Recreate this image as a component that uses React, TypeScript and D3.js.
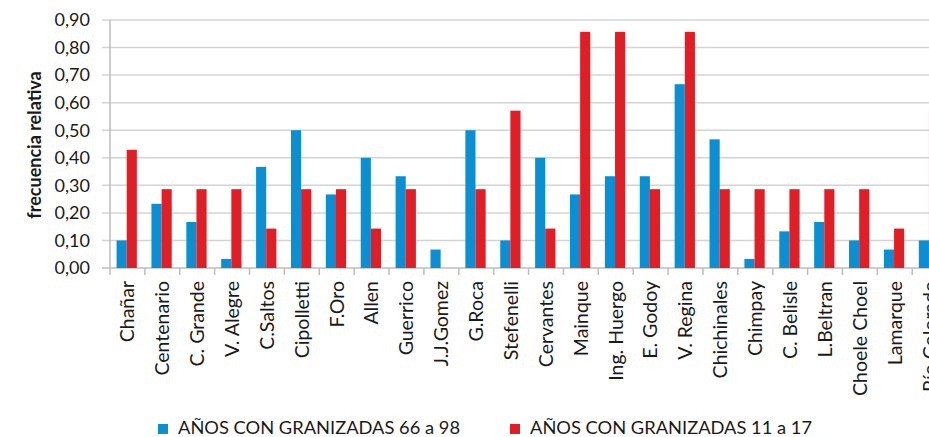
import React from 'react';
import * as d3 from 'd3';

const WIDTH = 929;
const HEIGHT = 437;

const categories = [
    'Chañar', 'Centenario', 'C. Grande', 'V. Alegre', 'C.Saltos', 'Cipolletti', 'F.Oro', 'Allen',
    'Guerrico', 'J.J.Gomez', 'G.Roca', 'Stefenelli', 'Cervantes', 'Mainque', 'Ing. Huergo',
    'E. Godoy', 'V. Regina', 'Chichinales', 'Chimpay', 'C. Belisle', 'L.Beltran', 'Choele Choel',
    'Lamarque', 'Río Colorado',
];

const blueValues = [
    0.10, 0.233, 0.167, 0.033, 0.367, 0.50, 0.267, 0.40, 0.333, 0.067, 0.50, 0.10,
    0.40, 0.267, 0.333, 0.333, 0.667, 0.467, 0.033, 0.133, 0.167, 0.10, 0.067, 0.10,
];

const redValues = [
    0.429, 0.286, 0.286, 0.286, 0.143, 0.286, 0.286, 0.143, 0.286, 0, 0.286, 0.571,
    0.143, 0.857, 0.857, 0.286, 0.857, 0.286, 0.286, 0.286, 0.286, 0.286, 0.143, 0.571,
];

const seriesNames = ['AÑOS CON GRANIZADAS 66 a 98', 'AÑOS CON GRANIZADAS 11 a 17'];
const seriesColors = ['#0a8fd2', '#e11d25'];
const yTicks = [0, 0.1, 0.2, 0.3, 0.4, 0.5, 0.6, 0.7, 0.8, 0.9];

const FONT = 'Lato, "Open Sans", sans-serif';

const margin = {left: 110, top: 20, bottom: 268};
const bandWidth = 34.88;

export default function App() {
    const x = d3.scaleBand<string>()
        .domain(categories)
        .range([margin.left, margin.left + bandWidth * categories.length]);

    // blue / red side by side inside each category
    const x1 = d3.scaleBand<number>()
        .domain([0, 1])
        .range([0, x.bandwidth()])
        .paddingOuter(0.72)
        .align(0.45);

    const y = d3.scaleLinear()
        .domain([0, 0.9])
        .range([margin.bottom, margin.top]);

    const fmt = (v: number) => v.toFixed(2).replace('.', ',');
    const series = [blueValues, redValues];

    return (
        <svg width={WIDTH} height={HEIGHT}
             style={{position: 'absolute', left: 0, top: 0, display: 'block', background: '#fff'}}
             fontFamily={FONT}>
            {/* gridlines + y labels */}
            {yTicks.map(t => (
                <g key={t}>
                    <line x1={102} x2={WIDTH} y1={y(t)} y2={y(t)}
                          stroke={t === 0 ? '#bdbdbd' : '#d4d4d4'} strokeWidth={1.5}/>
                    <text x={90} y={y(t)} dy="0.35em" textAnchor="end" fontSize={18} fill="#1a1a1a">
                        {fmt(t)}
                    </text>
                </g>
            ))}
            <line x1={margin.left} x2={margin.left} y1={y(0.9)} y2={y(0)} stroke="#bdbdbd" strokeWidth={1.5}/>

            {/* category ticks */}
            {categories.map(c => (
                <line key={c} x1={x(c) ?? 0} x2={x(c) ?? 0}
                      y1={y(0)} y2={y(0) + 7} stroke="#bdbdbd" strokeWidth={1.5}/>
            ))}

            {/* bars */}
            {series.map((vals, s) => (
                <g key={s} fill={seriesColors[s]}>
                    {categories.map((c, i) => (
                        vals[i] > 0 ? (
                            <rect key={c}
                                  x={(x(c) ?? 0) + (x1(s) ?? 0)}
                                  y={y(vals[i])}
                                  width={x1.bandwidth()}
                                  height={y(0) - y(vals[i])}/>
                        ) : null
                    ))}
                </g>
            ))}

            {/* x labels */}
            {categories.map(c => {
                const cx = (x(c) ?? 0) + x.bandwidth() / 2;
                return (
                    <text key={c} transform={`translate(${cx},281) rotate(-90)`}
                          textAnchor="end" dy="0.35em" fontSize={19.5} fill="#1a1a1a">
                        {c}
                    </text>
                );
            })}

            {/* y title */}
            <text transform="translate(35,145) rotate(-90)" textAnchor="middle" dy="0.35em"
                  fontSize={18} fontWeight="bold" fill="#1a1a1a">
                frecuencia relativa
            </text>

            {/* legend */}
            {seriesNames.map((name, s) => {
                const lx = s === 0 ? 158 : 510;
                return (
                    <g key={name}>
                        <rect x={lx} y={424} width={10} height={10} fill={seriesColors[s]}/>
                        <text x={lx + 20} y={434} fontSize={18} fill="#1a1a1a"
                              textLength={282} lengthAdjust="spacingAndGlyphs">
                            {name}
                        </text>
                    </g>
                );
            })}
        </svg>
    );
}
